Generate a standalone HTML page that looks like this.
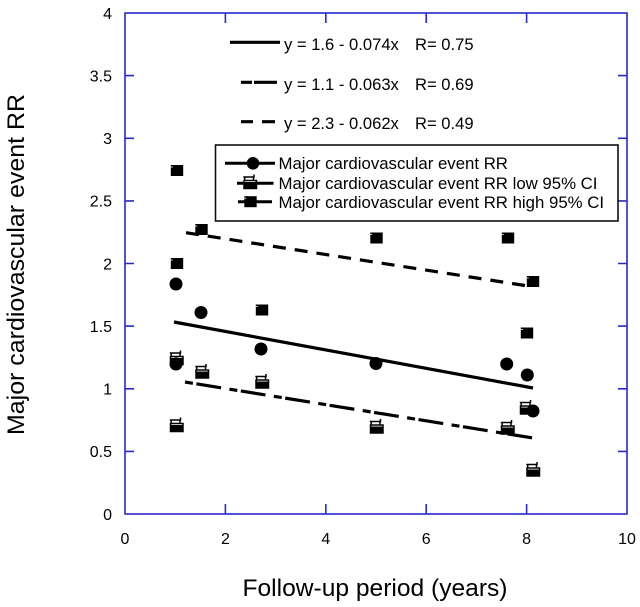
<!DOCTYPE html>
<html>
<head>
<meta charset="utf-8">
<style>
  html, body { margin: 0; padding: 0; background: #fff; }
  svg { display: block; }
  text { font-family: "Liberation Sans", Arial, sans-serif; fill: #000; }
</style>
</head>
<body>
<svg width="640" height="607" viewBox="0 0 640 607" xmlns="http://www.w3.org/2000/svg">
  <rect x="0" y="0" width="640" height="607" fill="#fff"/>

  <!-- plot frame -->
  <g stroke="#2a2ac8" stroke-width="1.6" fill="none">
    <rect x="125" y="13" width="502" height="501"/>
    <path d="M125 451.4h9 M125 388.8h9 M125 326.1h9 M125 263.5h9 M125 200.9h9 M125 138.3h9 M125 75.6h9"/>
    <path d="M627 451.4h-9 M627 388.8h-9 M627 326.1h-9 M627 263.5h-9 M627 200.9h-9 M627 138.3h-9 M627 75.6h-9"/>
    <path d="M225.4 514v-10 M325.8 514v-10 M426.2 514v-10 M526.6 514v-10"/>
    <path d="M225.4 13v10 M325.8 13v10 M426.2 13v10 M526.6 13v10"/>
  </g>

  <!-- y tick labels -->
  <g font-size="16" text-anchor="end">
    <text x="112" y="519.8">0</text>
    <text x="112" y="457.2">0.5</text>
    <text x="112" y="394.6">1</text>
    <text x="112" y="331.9">1.5</text>
    <text x="112" y="269.3">2</text>
    <text x="112" y="206.7">2.5</text>
    <text x="112" y="144.1">3</text>
    <text x="112" y="81.4">3.5</text>
    <text x="112" y="18.8">4</text>
  </g>

  <!-- x tick labels -->
  <g font-size="16" text-anchor="middle">
    <text x="125" y="544">0</text>
    <text x="225.4" y="544">2</text>
    <text x="325.8" y="544">4</text>
    <text x="426.2" y="544">6</text>
    <text x="526.6" y="544">8</text>
    <text x="627" y="544">10</text>
  </g>

  <!-- axis titles -->
  <text x="242.5" y="596" font-size="24" textLength="265" lengthAdjust="spacingAndGlyphs">Follow-up period (years)</text>
  <text transform="translate(24,435) rotate(-90)" x="0" y="0" font-size="24" textLength="341" lengthAdjust="spacingAndGlyphs">Major cardiovascular event RR</text>

  <!-- regression lines -->
  <line x1="174" y1="322" x2="533" y2="388" stroke="#000" stroke-width="3.2"/>
  <line x1="185" y1="382" x2="533" y2="438" stroke="#000" stroke-width="3.2" stroke-dasharray="8 3.5 25 8.5"/>
  <line x1="186" y1="232.7" x2="528" y2="286" stroke="#000" stroke-width="3.2" stroke-dasharray="13 9"/>

  <defs>
    <g id="low">
      <path d="M-6.7 -5.5H4.7 M4 -5.5V-8 M-5.3 -5.5V-2 M3.5 -5.5V-2" stroke="#000" stroke-width="1.5" fill="none"/>
      <rect x="-6" y="-2" width="12.5" height="8" stroke="#000" stroke-width="1.5" fill="none"/>
      <rect x="-6" y="-0.5" width="12.5" height="6.5" fill="#000"/>
    </g>
    <g id="high">
      <rect x="-6.2" y="-5.5" width="12.4" height="11" fill="#000"/>
      <path d="M-6.2 -3.5h2" stroke="#fff" stroke-width="0.8"/>
    </g>
  </defs>

  <!-- high CI markers -->
  <use href="#high" x="177" y="170.5"/>
  <use href="#high" x="177" y="263.5"/>
  <use href="#high" x="201.5" y="229.5"/>
  <use href="#high" x="262" y="310"/>
  <use href="#high" x="376.5" y="238"/>
  <use href="#high" x="508" y="238"/>
  <use href="#high" x="533" y="281.5"/>
  <use href="#high" x="527" y="333"/>

  <!-- circles -->
  <g fill="#000">
    <circle cx="176" cy="284" r="6.5"/>
    <circle cx="201" cy="312.5" r="6.5"/>
    <circle cx="261" cy="349" r="6.5"/>
    <circle cx="376" cy="363.5" r="6.5"/>
    <circle cx="506.7" cy="364" r="6.5"/>
    <circle cx="527.3" cy="375" r="6.5"/>
    <circle cx="176" cy="364" r="6.5"/>
    <circle cx="533" cy="411" r="6.5"/>
  </g>

  <!-- low CI markers -->
  <use href="#low" x="176.5" y="358.5"/>
  <use href="#low" x="176.5" y="425.5"/>
  <use href="#low" x="202" y="372"/>
  <use href="#low" x="262" y="382"/>
  <use href="#low" x="376.5" y="427"/>
  <use href="#low" x="507.5" y="428"/>
  <use href="#low" x="526.5" y="408"/>
  <use href="#low" x="533" y="470"/>

  <!-- equation legend -->
  <line x1="230" y1="42.3" x2="280" y2="42.3" stroke="#000" stroke-width="3.2"/>
  <path d="M241 82.3H252 M254 82.3H277" stroke="#000" stroke-width="3.2"/>
  <path d="M241 121.7H253 M262 121.7H275" stroke="#000" stroke-width="3.2"/>
  <g font-size="16.6">
    <text x="284" y="50">y = 1.6 - 0.074x</text>
    <text x="415" y="50">R= 0.75</text>
    <text x="284" y="90">y = 1.1 - 0.063x</text>
    <text x="415" y="90">R= 0.69</text>
    <text x="284" y="129">y = 2.3 - 0.062x</text>
    <text x="415" y="129">R= 0.49</text>
  </g>

  <!-- series legend box -->
  <rect x="215.5" y="145" width="402.5" height="76" fill="#fff" stroke="#111" stroke-width="1.6"/>
  <line x1="225" y1="163.3" x2="275" y2="163.3" stroke="#000" stroke-width="3"/>
  <circle cx="253" cy="163.3" r="6.3" fill="#000"/>
  <path d="M237 183.3H243.5 M255 183.3H273.5" stroke="#000" stroke-width="3"/>
  <use href="#low" x="250" y="182.5"/>
  <path d="M238 201.7H245 M256.5 201.7H272" stroke="#000" stroke-width="3"/>
  <use href="#high" x="250.5" y="201.7"/>
  <g font-size="16.8">
    <text x="278.5" y="169">Major cardiovascular event RR</text>
    <text x="278.5" y="189">Major cardiovascular event RR low 95% CI</text>
    <text x="278.5" y="208">Major cardiovascular event RR high 95% CI</text>
  </g>
</svg>
</body>
</html>
